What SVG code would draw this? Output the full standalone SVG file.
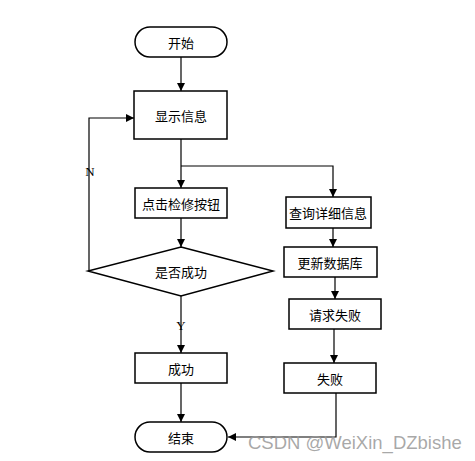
<svg xmlns="http://www.w3.org/2000/svg" width="475" height="461" viewBox="0 0 475 461">
<style>
.box{fill:#fff;stroke:#000;stroke-width:1.5}
.ln{fill:none;stroke:#000;stroke-width:1.2}
.t{font-family:"Noto Sans CJK SC","Liberation Sans",sans-serif;font-size:13px;text-anchor:middle;dominant-baseline:central;fill:#000}
.s{font-family:"Liberation Serif",serif;font-size:13px;text-anchor:middle;dominant-baseline:central;fill:#000}
</style>
<defs>
<marker id="a" viewBox="0 0 10 10" refX="10" refY="5" markerWidth="8" markerHeight="8" markerUnits="userSpaceOnUse" orient="auto">
<path d="M0,0L10,5L0,10z" fill="#000"/>
</marker>
</defs>
<rect width="475" height="461" fill="#fff"/>
<g id="connectors">
<path class="ln" d="M181,57V91" marker-end="url(#a)"/>
<path class="ln" d="M181,139V188" marker-end="url(#a)"/>
<path class="ln" d="M181,166H333V197" marker-end="url(#a)"/>
<path class="ln" d="M181,218V247" marker-end="url(#a)"/>
<path class="ln" d="M89,271V118H134" marker-end="url(#a)"/>
<path class="ln" d="M181,296V353" marker-end="url(#a)"/>
<path class="ln" d="M181,383V422" marker-end="url(#a)"/>
<path class="ln" d="M333,228V247" marker-end="url(#a)"/>
<path class="ln" d="M335,277V299" marker-end="url(#a)"/>
<path class="ln" d="M334,329V363" marker-end="url(#a)"/>
<path class="ln" d="M336,393V437H228" marker-end="url(#a)"/>
<text class="s" x="90" y="171">N</text>
<text class="s" x="181" y="325">Y</text>
</g>
<g id="start"><rect class="box" x="135" y="27" width="92" height="30" rx="15"/><text class="t" x="181" y="42">开始</text></g>
<g id="show"><rect class="box" x="134" y="91" width="93" height="48"/><text class="t" x="181" y="115">显示信息</text></g>
<g id="click"><rect class="box" x="135" y="188" width="92" height="30"/><text class="t" x="181" y="203">点击检修按钮</text></g>
<g id="decide"><path class="box" d="M181,247L273,271L181,296L88,271Z"/><text class="t" x="181" y="271">是否成功</text></g>
<g id="success"><rect class="box" x="135" y="353" width="92" height="30"/><text class="t" x="181" y="368">成功</text></g>
<g id="end"><rect class="box" x="135" y="422" width="92" height="30" rx="15"/><text class="t" x="181" y="437">结束</text></g>
<g id="query"><rect class="box" x="286" y="197" width="85" height="31"/><text class="t" x="328" y="212">查询详细信息</text></g>
<g id="update"><rect class="box" x="284" y="247" width="93" height="30"/><text class="t" x="330" y="262">更新数据库</text></g>
<g id="reqfail"><rect class="box" x="289" y="299" width="92" height="30"/><text class="t" x="335" y="314">请求失败</text></g>
<g id="fail"><rect class="box" x="284" y="363" width="92" height="30"/><text class="t" x="330" y="378">失败</text></g>
<text x="248" y="442" font-family="Liberation Sans,sans-serif" font-size="18.5" fill="#999" fill-opacity="0.85" dominant-baseline="central">CSDN @WeiXin_DZbishe</text>
</svg>
